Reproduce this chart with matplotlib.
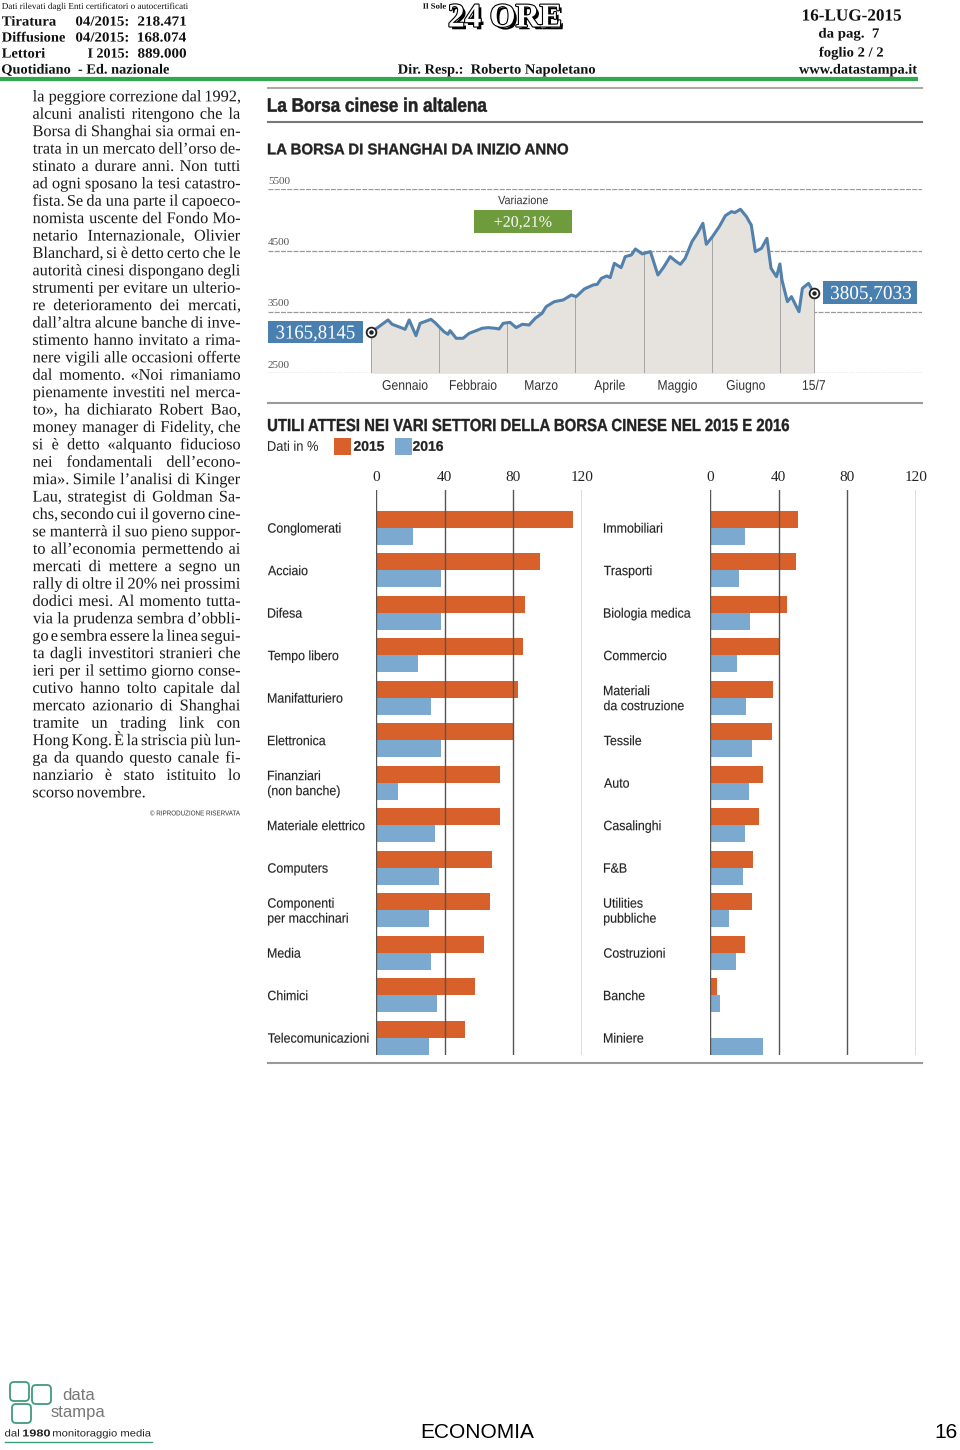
import numpy as np
import matplotlib.pyplot as plt
from matplotlib.patches import Rectangle, FancyBboxPatch, PathPatch
from matplotlib.transforms import blended_transform_factory, Affine2D
from matplotlib.textpath import TextPath
from matplotlib.font_manager import FontProperties
import matplotlib.patheffects as pe

W, H = 960, 1450
SERIF = ['Liberation Serif', 'DejaVu Serif']
SANS = ['Liberation Sans', 'DejaVu Sans']
ORANGE = '#d8612b'
BLUE = '#7ba9d0'
LINE = '#5281ab'
BOX = '#4a80b0'
GREEN = '#6e9b3c'

# --- Shanghai index, time in months from 1 Jan (equal-width months) ---
mesi = [0.00, 0.25, 0.31, 0.44, 0.50, 0.56, 0.66, 0.72, 0.88, 0.94, 1.07, 1.13, 1.16,
        1.25, 1.35, 1.44, 1.57, 1.63, 1.72, 1.82, 1.88, 1.94, 2.04, 2.13, 2.22, 2.32,
        2.41, 2.51, 2.57, 2.69, 2.82, 2.94, 3.01, 3.13, 3.26, 3.32, 3.38, 3.46, 3.51,
        3.57, 3.67, 3.73, 3.82, 3.88, 3.98, 4.10, 4.21, 4.29, 4.39, 4.48, 4.54, 4.61,
        4.71, 4.79, 4.87, 4.92, 5.01, 5.11, 5.20, 5.29, 5.34, 5.42, 5.51, 5.55, 5.58,
        5.64, 5.73, 5.81, 5.87, 5.95, 6.00, 6.03, 6.11, 6.17, 6.23, 6.28, 6.33, 6.42, 6.50]
indice = [3165.8145, 3370, 3299, 3245, 3217, 3370, 3114, 3315, 3380, 3326, 3179, 3136, 3196,
          3071, 3071, 3152, 3207, 3234, 3245, 3234, 3223, 3315, 3331, 3245, 3299, 3288,
          3397, 3478, 3587, 3668, 3696, 3777, 3750, 3875, 3940, 3951, 4049, 4087, 4060,
          4293, 4223, 4402, 4429, 4527, 4446, 4484, 4103, 4223, 4402, 4321, 4277, 4375,
          4647, 4783, 4946, 4603, 4728, 4891, 5071, 5136, 5120, 5174, 5054, 4973, 4918,
          4484, 4538, 4701, 4212, 4076, 4283, 4022, 3668, 3750, 3614, 3505, 3886, 3967, 3805.7033]
month_names = ['Gennaio', 'Febbraio', 'Marzo', 'Aprile', 'Maggio', 'Giugno']
y_ticks = [2500, 3500, 4500, 5500]

# --- expected earnings by sector ---
cat_left = ['Conglomerati', 'Acciaio', 'Difesa', 'Tempo libero', 'Manifatturiero', 'Elettronica',
            'Finanziari\n(non banche)', 'Materiale elettrico', 'Computers',
            'Componenti\nper macchinari', 'Media', 'Chimici', 'Telecomunicazioni']
left_2015 = [114.6, 95.5, 87.0, 85.8, 82.5, 80.6, 72.4, 72.0, 67.6, 66.2, 62.7, 57.9, 52.0]
left_2016 = [21.6, 38.0, 38.0, 24.3, 32.0, 37.9, 12.6, 34.6, 36.9, 30.9, 32.0, 35.7, 30.9]
cat_right = ['Immobiliari', 'Trasporti', 'Biologia medica', 'Commercio',
             'Materiali\nda costruzione', 'Tessile', 'Auto', 'Casalinghi', 'F&B',
             'Utilities\npubbliche', 'Costruzioni', 'Banche', 'Miniere']
right_2015 = [51.0, 50.3, 44.7, 40.8, 36.5, 36.3, 30.9, 28.5, 24.9, 24.5, 20.2, 4.1, -1.2]
right_2016 = [20.4, 17.1, 23.3, 15.5, 21.2, 24.7, 22.9, 20.4, 19.2, 11.1, 15.0, 6.0, 30.9]
bar_ticks = [0, 40, 80, 120]

article = [
    "la peggiore correzione dal 1992,", "alcuni analisti ritengono che la",
    "Borsa di Shanghai sia ormai en-", "trata in un mercato dell’orso de-",
    "stinato a durare anni. Non tutti", "ad ogni sposano la tesi catastro-",
    "fista. Se da una parte il capoeco-", "nomista uscente del Fondo Mo-",
    "netario Internazionale, Olivier", "Blanchard, si è detto certo che le",
    "autorità cinesi dispongano degli", "strumenti per evitare un ulterio-",
    "re deterioramento dei mercati,", "dall’altra alcune banche di inve-",
    "stimento hanno invitato a rima-", "nere vigili alle occasioni offerte",
    "dal momento. «Noi rimaniamo", "pienamente investiti nel merca-",
    "to», ha dichiarato Robert Bao,", "money manager di Fidelity, che",
    "si è detto «alquanto fiducioso", "nei fondamentali dell’econo-",
    "mia». Simile l’analisi di Kinger", "Lau, strategist di Goldman Sa-",
    "chs, secondo cui il governo cine-", "se manterrà il suo pieno suppor-",
    "to all’economia permettendo ai", "mercati di mettere a segno un",
    "rally di oltre il 20% nei prossimi", "dodici mesi. Al momento tutta-",
    "via la prudenza sembra d’obbli-", "go e sembra essere la linea segui-",
    "ta dagli investitori stranieri che", "ieri per il settimo giorno conse-",
    "cutivo hanno tolto capitale dal", "mercato azionario di Shanghai",
    "tramite un trading link con", "Hong Kong. È la striscia più lun-",
    "ga da quando questo canale fi-", "nanziario è stato istituito lo",
    "scorso novembre."]

fig = plt.figure(figsize=(W / 100, H / 100), dpi=100)
pg = fig.add_axes([0, 0, 1, 1])
pg.set_xlim(0, W)
pg.set_ylim(H, 0)
pg.axis('off')


def axes_px(x0, y0, x1, y1):
    a = fig.add_axes([x0 / W, 1 - y1 / H, (x1 - x0) / W, (y1 - y0) / H])
    a.set_facecolor('none')
    return a


def to_px(a, x, y):
    dx, dy = a.transData.transform((x, y))
    return dx, H - dy


def ctext(x, y, s, size, family=SANS, weight='normal', sx=0.9, width=None, ha='left',
          color='#222', pitch=None, heavy=0, z=5):
    # condensed text: glyph outlines squeezed horizontally, y is the cap-height centre
    fp = FontProperties(family=family, weight=weight)
    cap = TextPath((0, 0), 'H', size=size, prop=fp).get_extents().height
    lines = s.split('\n')
    pitch = pitch or size * 1.1
    y0 = y - pitch * (len(lines) - 1) / 2
    for k, ln in enumerate(lines):
        p = TextPath((0, 0), ln, size=size, prop=fp)
        e = p.get_extents()
        f = width / e.width if width else sx
        if ha == 'left':
            dx = x - e.x0 * f
        elif ha == 'center':
            dx = x - (e.x0 + e.x1) / 2 * f
        else:
            dx = x - e.x1 * f
        tr = Affine2D().scale(f, -1).translate(dx, y0 + k * pitch + cap / 2) + pg.transData
        pg.add_patch(PathPatch(p, transform=tr, fc=color, ec=color, lw=heavy, zorder=z))


# ---------------- header ----------------
HB = dict(family=SERIF, weight='bold', color='#111')
ctext(2, 6, 'Dati rilevati dagli Enti certificatori o autocertificati', 9, family=SERIF, width=186, color='#111')
for y, a, b, c, wa, wb in [(21, 'Tiratura', '04/2015:', '218.471', 54, 52),
                           (37, 'Diffusione', '04/2015:', '168.074', 63, 52),
                           (53, 'Lettori', 'I 2015:', '889.000', 43, 40)]:
    ctext(2, y, a, 14, width=wa, **HB)
    ctext(128, y, b, 14, width=wb, ha='right', **HB)
    ctext(186, y, c, 14, width=48, ha='right', **HB)
ctext(2, 69, 'Quotidiano  - Ed. nazionale', 14, width=167, **HB)
ctext(398, 69, 'Dir. Resp.:  Roberto Napoletano', 14, width=197, **HB)
ctext(852, 15, '16-LUG-2015', 17, width=98, ha='center', **HB)
ctext(849, 33, 'da pag.  7', 14, width=60, ha='center', **HB)
ctext(851, 52, 'foglio 2 / 2', 14, width=64, ha='center', **HB)
ctext(858, 69, 'www.datastampa.it', 14, width=118, ha='center', **HB)
ctext(423, 6, 'Il Sole', 8, width=23, **HB)
pg.text(448, 18, '24 ORE', family=SERIF, fontsize=24, weight='bold', va='center', color='white',
        path_effects=[pe.withSimplePatchShadow(offset=(2, -2), shadow_rgbFace='black', alpha=1),
                      pe.Stroke(linewidth=1.6, foreground='black'), pe.Normal()])
pg.plot([0, 918], [79, 79], color='#2fa84f', lw=3, solid_capstyle='butt')

# ---------------- article column (justified) ----------------
fp_art = FontProperties(family=SERIF)
ART = 16.3
cap_art = TextPath((0, 0), 'H', size=ART, prop=fp_art).get_extents().height
for i, line in enumerate(article):
    yb = 96 + i * 17.4 + cap_art / 2
    words = line.split(' ')
    paths = [TextPath((0, 0), w, size=ART, prop=fp_art) for w in words]
    ext = [p.get_extents() for p in paths]
    tot = sum(e.width for e in ext)
    f = 1.0
    if i == len(article) - 1:
        gap = 3.5
    else:
        gap = (207 - tot) / (len(words) - 1)
        if gap < 2.5:
            gap = 2.5
            f = (207 - gap * (len(words) - 1)) / tot
    x = 33
    for p, e in zip(paths, ext):
        tr = Affine2D().scale(f, -1).translate(x - e.x0 * f, yb) + pg.transData
        pg.add_patch(PathPatch(p, transform=tr, fc='#1a1a1a', lw=0))
        x += e.width * f + gap
ctext(240, 813, '© RIPRODUZIONE RISERVATA', 7, width=90, ha='right', color='#333')

# ---------------- chart frame ----------------
for y, c in [(88, '#aaa'), (122, '#777'), (403, '#999'), (1063, '#999')]:
    pg.plot([268, 922], [y, y], color=c, lw=1.5)
ctext(268, 105, 'La Borsa cinese in altalena', 19.5, weight='bold', width=219, heavy=0.35)
ctext(268, 149, 'LA BORSA DI SHANGHAI DA INIZIO ANNO', 15.5, weight='bold', width=300, heavy=0.25)

# ---------------- line chart ----------------
t = np.array(mesi)
v = np.array(indice)
ax = axes_px(268, 189.3, 922, 373.3)
ax.set_xlim((268 - 371) / 68.15, (922 - 371) / 68.15)
ax.set_ylim(2500, 5500)
for g in y_ticks:
    ax.axhline(g, color='#999', lw=0.9, ls=(0, (4, 1)), zorder=0)
    ax.text(0, g + 60, str(g), transform=blended_transform_factory(ax.transAxes, ax.transData),
            family=SERIF, fontsize=8, color='#555', va='bottom', ha='left')
ax.fill_between(t, 2500, v, color='#e6e2dd', lw=0, zorder=1)
for m in list(range(7)) + [t[-1]]:
    ax.plot([m, m], [2500, np.interp(m, t, v)], color='#a5a5a5', lw=0.7, zorder=2)
ax.plot(t, v, color=LINE, lw=2.2, zorder=3)
for i in (0, -1):
    ax.plot(t[i], v[i], 'o', ms=7, mfc='white', mec='#222', mew=1.3, zorder=4)
    ax.plot(t[i], v[i], 'o', ms=2.2, color='#222', zorder=5)
ax.set_xticks([])
ax.set_yticks([])
for s in ax.spines.values():
    s.set_visible(False)
for m, name in enumerate(month_names):
    px, _ = to_px(ax, m + 0.5, 2500)
    ctext(px, 385, name, 14, sx=0.87, ha='center', color='#333')
px, _ = to_px(ax, t[-1], 2500)
ctext(px, 385, '15/7', 14, sx=0.87, ha='center', color='#333')

fmt = lambda x: f'{x:.4f}'.replace('.', ',')
pg.add_patch(Rectangle((268, 321), 95, 22, color=BOX, lw=0))
ctext(315.5, 332, fmt(v[0]), 20, family=SERIF, width=78, ha='center', color='white')
pg.add_patch(Rectangle((823, 281), 94, 23, color=BOX, lw=0))
ctext(871, 292.5, fmt(v[-1]), 20, family=SERIF, width=80, ha='center', color='white')
var = (v[-1] / v[0] - 1) * 100
ctext(523, 200, 'Variazione', 12, sx=0.9, ha='center', color='#333')
pg.add_patch(Rectangle((474, 210), 98, 23, color=GREEN, lw=0))
ctext(523, 221.5, '+' + f'{var:.2f}'.replace('.', ',') + '%', 16, family=SERIF, width=57,
      ha='center', color='white')

# ---------------- bar charts ----------------
ctext(268, 425, 'UTILI ATTESI NEI VARI SETTORI DELLA BORSA CINESE NEL 2015 E 2016', 17.5,
      weight='bold', width=521, heavy=0.25)
ctext(268, 446, 'Dati in %', 14, width=50)
pg.add_patch(Rectangle((334, 438), 17, 17, color=ORANGE, lw=0))
ctext(354, 446, '2015', 14, weight='bold', width=30, heavy=0.2)
pg.add_patch(Rectangle((395, 438), 17, 17, color=BLUE, lw=0))
ctext(413, 446, '2016', 14, weight='bold', width=30, heavy=0.2)


def bars(x0, xlab, cats, a, b):
    bx = axes_px(x0, 490, x0 + 206, 1055)
    bx.set_xlim(0, 120)
    bx.set_ylim(12.4, -0.894)
    y = np.arange(len(cats))
    bx.barh(y - 0.2, a, height=0.4, color=ORANGE, zorder=2)
    bx.barh(y + 0.2, b, height=0.4, color=BLUE, zorder=2)
    for g in bar_ticks:
        bx.axvline(g, color='#555', lw=1, zorder=3)
    bx.xaxis.tick_top()
    bx.set_xticks(bar_ticks)
    bx.set_xticklabels([str(g) for g in bar_ticks], family=SERIF, fontsize=11, color='#222')
    bx.tick_params(length=0, pad=4)
    bx.set_yticks([])
    for s in bx.spines.values():
        s.set_visible(False)
    for i, c in enumerate(cats):
        _, py = to_px(bx, 0, i)
        ctext(xlab, py, c, 13.5, sx=0.92, pitch=15, heavy=0.1)


bars(376, 268, cat_left, left_2015, left_2016)
bars(710, 604, cat_right, right_2015, right_2016)

# ---------------- footer ----------------
for x, y in [(10, 1382), (32, 1385), (12, 1404)]:
    pg.add_patch(FancyBboxPatch((x, y), 19, 19, boxstyle='round,pad=0,rounding_size=4',
                                fc='none', ec='#3f9c7a', lw=1.3))
pg.text(62, 1395, 'data', family=SANS, fontsize=12, color='#777', va='center')
pg.text(51, 1412, 'stampa', family=SANS, fontsize=12, color='#777', va='center')
ctext(5, 1433, 'dal', 10, width=14)
ctext(23, 1433, '1980', 10, weight='bold', width=27)
ctext(53, 1433, 'monitoraggio media', 10, width=98)
pg.plot([5, 152], [1442, 1442], color='#3f9c7a', lw=1)
pg.text(420, 1433, 'ECONOMIA', family=SANS, fontsize=15, va='center')
pg.text(958, 1433, '16', family=SANS, fontsize=15, va='center', ha='right')

plt.savefig('out.png', dpi=100)
